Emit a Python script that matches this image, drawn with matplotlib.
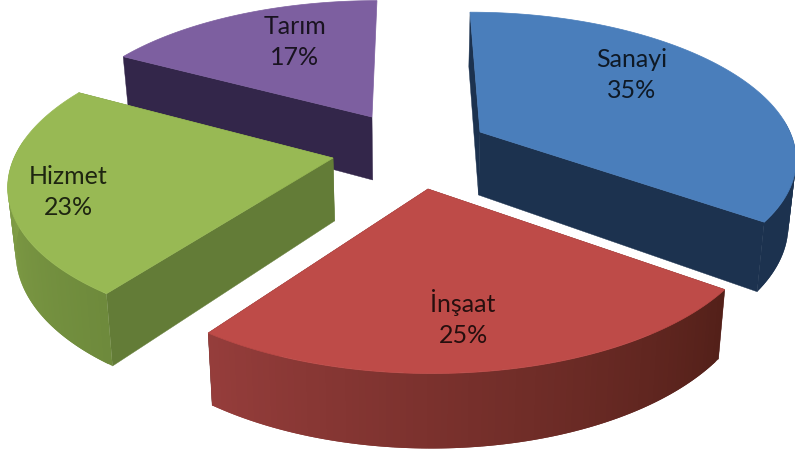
import numpy as np
import matplotlib
matplotlib.use("Agg")
import matplotlib.pyplot as plt
from matplotlib.colors import to_rgb
from matplotlib.patches import Polygon

categories = ["Sanayi", "İnşaat", "Hizmet", "Tarım"]
values = [35, 25, 23, 17]

top_colors = ["#4A7EBB", "#BE4B48", "#98B954", "#7D5FA0"]
radial_colors = ["#1C324F", "#5A2421", "#637C37", "#33264A"]
wall_start = ["#1C324F", "#532019", "#6E8A3C", "#33264A"]
wall_end = ["#1C324F", "#953D3B", "#8CAA4C", "#33264A"]
label_xy = [(632, 75), (463, 318), (68, 192), (295, 42)]
apex_xy = [(480, 133), (428, 190), (333, 159), (372, 118)]
radius_xy = [(310, 139), (330, 155), (319, 146), (309, 135)]
order = [3, 0, 2, 1]

CX, P, DEPTH, CONVERGE = 408, 0.16, 63, 0.02


def project(i, u, v, z=0.0):
    ax_, ay_ = apex_xy[i]
    rx, ry = radius_xy[i]
    s = 1 / (1 + P * v)
    x = CX + (ax_ - CX + rx * u) * s
    x = CX + (x - CX) * (1 - CONVERGE * z)
    y = ay_ - ry * v * s + DEPTH * z * s
    return x, y


fig = plt.figure(figsize=(7.95, 4.56), dpi=100, facecolor="white")
ax = fig.add_axes([0, 0, 1, 1])
ax.set_xlim(0, 795)
ax.set_ylim(456, 0)
ax.axis("off")

edges = np.cumsum([0] + values) / sum(values) * 2 * np.pi
for i in order:
    a0, a1 = edges[i], edges[i + 1]
    th = np.linspace(a0, a1, 90)
    u, v = np.sin(th), np.cos(th)

    x0, y0 = project(i, u, v)
    x1, y1 = project(i, u, v, 1)

    # radial walls first; the wall closing the circle at 12 o'clock is not seen
    for end in (a0, a1):
        if abs(end - 2 * np.pi) < 1e-6:
            continue
        uu = np.array([0, np.sin(end)])
        vv = np.array([0, np.cos(end)])
        xa, ya = project(i, uu, vv)
        xb, yb = project(i, uu, vv, 1)
        ax.add_patch(Polygon(np.r_[np.c_[xa, ya], np.c_[xb, yb][::-1]],
                             fc=radial_colors[i], ec=radial_colors[i], lw=0.3))
    # outer wall: only the part facing the viewer, gradient along the arc
    c0, c1 = np.array(to_rgb(wall_start[i])), np.array(to_rgb(wall_end[i]))
    for k in range(len(th) - 1):
        if v[k] > 0.1:
            continue
        t = k / (len(th) - 2)
        col = c0 + (c1 - c0) * t
        m = min(k + 2, len(th) - 1)
        ax.add_patch(Polygon([(x0[k], y0[k]), (x0[m], y0[m]),
                              (x1[m], y1[m]), (x1[k], y1[k])],
                             fc=col, ec="none", lw=0))
    # top surface
    xa, ya = project(i, 0.0, 0.0)
    ax.add_patch(Polygon(np.r_[[(xa, ya)], np.c_[x0, y0]], fc=top_colors[i],
                         ec=top_colors[i], lw=0.5))
    ax.text(*label_xy[i], f"{categories[i]}\n{values[i]}%", ha="center", va="center",
            family="Lato", fontsize=18, color="black", alpha=0.8, linespacing=1.42)

fig.savefig("out.png", dpi=100)
